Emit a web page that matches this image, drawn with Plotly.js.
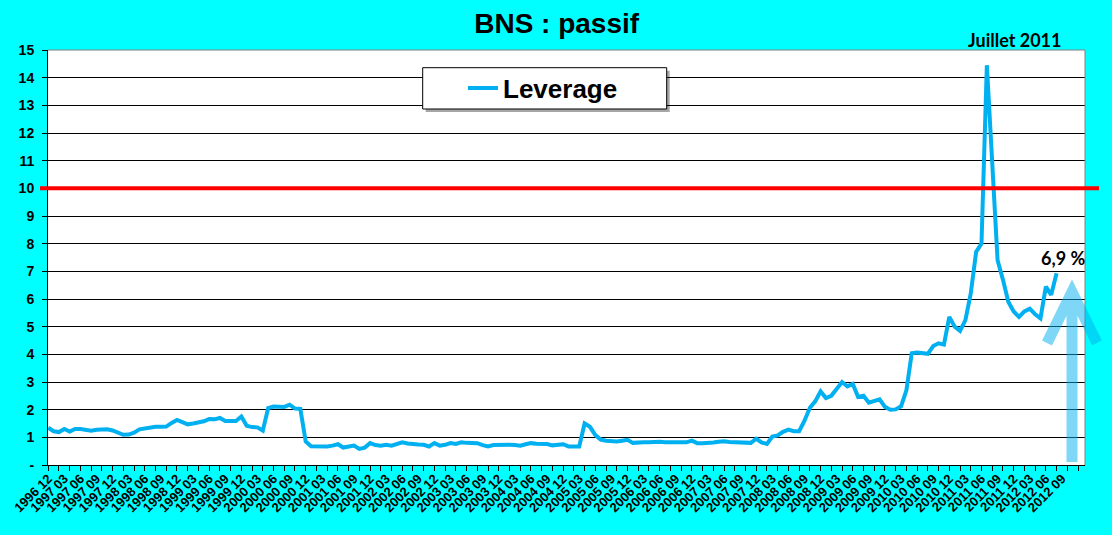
<!DOCTYPE html>
<html>
<head>
<meta charset="utf-8">
<script src="https://cdn.plot.ly/plotly-3.0.1.min.js"></script>
<style>
  html, body { margin: 0; padding: 0; background: #00FFFF; }
  #chart { width: 1112px; height: 535px; }
</style>
</head>
<body>
<div id="chart"></div>
<script>
// ---- data (monthly, first month 1996 12) ----
const firstYear = 1996;
const firstMonth = 12;
const leverage = [
  1.35, 1.22, 1.19, 1.30, 1.21, 1.30, 1.30, 1.28, 1.24, 1.27, 1.29, 1.29,
  1.25, 1.17, 1.09, 1.10, 1.17, 1.29, 1.33, 1.37, 1.38, 1.38, 1.39, 1.52,
  1.63, 1.55, 1.47, 1.50, 1.53, 1.58, 1.66, 1.65, 1.70, 1.59, 1.59, 1.59,
  1.75, 1.42, 1.37, 1.36, 1.24, 2.06, 2.11, 2.12, 2.10, 2.18, 2.04, 2.03,
  0.85, 0.68, 0.67, 0.67, 0.67, 0.70, 0.75, 0.63, 0.68, 0.70, 0.58, 0.63,
  0.79, 0.72, 0.70, 0.73, 0.70, 0.75, 0.82, 0.78, 0.75, 0.74, 0.73, 0.67,
  0.79, 0.70, 0.73, 0.79, 0.76, 0.82, 0.80, 0.79, 0.79, 0.72, 0.67, 0.72,
  0.73, 0.73, 0.73, 0.72, 0.70, 0.75, 0.79, 0.77, 0.77, 0.76, 0.71, 0.72,
  0.75, 0.67, 0.67, 0.67, 1.50, 1.38, 1.08, 0.92, 0.88, 0.87, 0.85, 0.88,
  0.91, 0.80, 0.82, 0.82, 0.82, 0.84, 0.84, 0.82, 0.82, 0.82, 0.79, 0.82,
  0.88, 0.79, 0.79, 0.79, 0.81, 0.84, 0.86, 0.83, 0.82, 0.80, 0.80, 0.80,
  0.95, 0.82, 0.76, 1.03, 1.07, 1.20, 1.28, 1.22, 1.22, 1.60, 2.07, 2.30,
  2.66, 2.42, 2.50, 2.75, 3.00, 2.84, 2.93, 2.46, 2.50, 2.25, 2.30, 2.37,
  2.10, 2.00, 2.01, 2.12, 2.70, 4.04, 4.07, 4.05, 4.02, 4.30, 4.40, 4.35,
  5.35, 5.00, 4.85, 5.24, 6.20, 7.70, 8.00, 14.45, 11.00, 7.40, 6.70, 5.90,
  5.55, 5.35, 5.55, 5.65, 5.45, 5.30, 6.45, 6.15, 6.93
];
const seriesName = 'Leverage';
const limitValue = 10;
const yTickVals = [0,1,2,3,4,5,6,7,8,9,10,11,12,13,14,15];
const yTickText = ['-','1','2','3','4','5','6','7','8','9','10','11','12','13','14','15'];
const lastLabelIndex = 189;   // "2012 09"
const tickStep = 3;           // quarterly labels
const yMin = 0, yMax = 15;
const xMin = -0.05, xMax = 193.3;

function monthLabel(i) {
  const m0 = firstMonth - 1 + i;
  const y = firstYear + Math.floor(m0 / 12);
  const m = (m0 % 12) + 1;
  return y + ' ' + (m < 10 ? '0' + m : '' + m);
}
const monthIndex = leverage.map((_, i) => i);
const months = leverage.map((_, i) => monthLabel(i));
const tickVals = [];
const tickText = [];
for (let i = 0; i <= lastLabelIndex; i += tickStep) { tickVals.push(i); tickText.push(monthLabel(i)); }

// ---- layout helpers (paper coords) ----
const W = 1112, H = 535, mL = 48, mR = 27, mT = 50, mB = 70;
const pw = W - mL - mR, ph = H - mT - mB;
const px = v => (v - mL) / pw;
const py = v => (H - mB - v) / ph;
const limitY = (limitValue - yMin) / (yMax - yMin);

const FONT = 'Arial, "Liberation Sans", sans-serif';
const LINE_BLUE = '#00B0F0';

const trace = {
  type: 'scatter', mode: 'lines', name: seriesName,
  x: monthIndex, y: leverage, text: months,
  hovertemplate: '%{text}: %{y}<extra></extra>',
  line: { color: LINE_BLUE, width: 4 }
};

const arrowPath = 'M ' + px(1072) + ' ' + py(462) + ' L ' + px(1072) + ' ' + py(292) +
  ' M ' + px(1047) + ' ' + py(343) + ' L ' + px(1072) + ' ' + py(292) + ' L ' + px(1097) + ' ' + py(343);

const layout = {
  width: W, height: H,
  margin: { l: mL, r: mR, t: mT, b: mB, pad: 0 },
  paper_bgcolor: '#00FFFF',
  plot_bgcolor: '#FFFFFF',
  font: { family: FONT, color: '#000000' },
  title: {
    text: 'BNS : passif',
    font: { family: FONT, size: 28, weight: 'bold', color: '#000000' },
    x: 0.5006, xanchor: 'center', y: 1 - 23 / H, yanchor: 'middle'
  },
  showlegend: true,
  legend: {
    x: px(463), xanchor: 'left', y: py(88), yanchor: 'middle',
    bgcolor: 'rgba(0,0,0,0)', borderwidth: 0,
    font: { family: FONT, size: 26, weight: 'bold', color: '#000000' },
    itemwidth: 30
  },
  xaxis: {
    type: 'linear', range: [xMin, xMax],
    tickmode: 'array', tickvals: tickVals, ticktext: tickText,
    tickangle: -45,
    ticks: '', ticklen: 5,
    tickfont: { family: FONT, size: 13, weight: 'bold', color: '#000000' },
    showgrid: false, zeroline: false,
    showline: true, linecolor: '#000000', linewidth: 1,
    minor: { ticks: 'outside', ticklen: 5, tickcolor: '#000000', tickwidth: 1, dtick: 2, tick0: 0, showgrid: false }
  },
  yaxis: {
    range: [yMin, yMax],
    tickmode: 'array', tickvals: yTickVals, ticktext: yTickText,
    ticks: 'outside', ticklen: 5, tickcolor: '#000000', tickwidth: 1,
    ticklabelstandoff: 5,
    tickfont: { family: FONT, size: 14, weight: 'bold', color: '#000000' },
    showgrid: true, gridcolor: '#000000', gridwidth: 1,
    zeroline: false,
    showline: true, linecolor: '#000000', linewidth: 1
  },
  shapes: [
    // plot frame top/right (grey)
    { type: 'line', xref: 'paper', yref: 'paper', x0: 0, x1: 1, y0: 1, y1: 1, line: { color: '#808080', width: 1 }, layer: 'above' },
    { type: 'line', xref: 'paper', yref: 'paper', x0: 1, x1: 1, y0: 0, y1: 1, line: { color: '#808080', width: 1 }, layer: 'above' },
    // legend box shadow + box
    { type: 'rect', xref: 'paper', yref: 'paper', x0: px(425.7), x1: px(669.7), y0: py(112), y1: py(70.7),
      fillcolor: 'rgba(0,0,0,0.35)', line: { width: 0 }, layer: 'above' },
    { type: 'rect', xref: 'paper', yref: 'paper', x0: px(422.7), x1: px(666.7), y0: py(109), y1: py(67.7),
      fillcolor: '#FFFFFF', line: { color: '#000000', width: 1 }, layer: 'above' },
    // limit line at 10
    { type: 'line', xref: 'paper', yref: 'paper', x0: px(40), x1: px(1099), y0: limitY, y1: limitY,
      line: { color: '#FF0000', width: 4 }, layer: 'above' },
    // arrow
    { type: 'path', xref: 'paper', yref: 'paper', path: arrowPath,
      line: { color: LINE_BLUE, width: 11 }, opacity: 0.5, layer: 'above' }
  ],
  annotations: [
    { xref: 'paper', yref: 'paper', x: px(1015), y: py(40), xanchor: 'center', yanchor: 'middle',
      text: 'Juillet 2011', showarrow: false,
      font: { family: 'Lato, "Open Sans", sans-serif', size: 18, weight: 'bold', color: '#000000' } },
    { xref: 'paper', yref: 'paper', x: px(1063), y: py(258), xanchor: 'center', yanchor: 'middle',
      text: '6,9 %', showarrow: false,
      font: { family: 'Lato, "Open Sans", sans-serif', size: 18, weight: 'bold', color: '#000000' } }
  ]
};

Plotly.newPlot('chart', [trace], layout, { displayModeBar: false, staticPlot: true });
</script>
</body>
</html>
